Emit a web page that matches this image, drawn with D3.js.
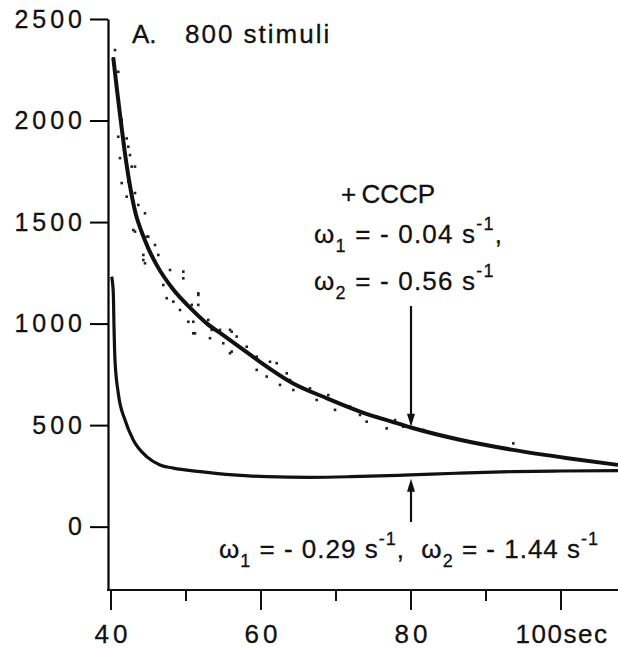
<!DOCTYPE html>
<html>
<head>
<meta charset="utf-8">
<script src="https://cdn.jsdelivr.net/npm/d3@7"></script>
<style>
   body { margin: 0; background: #fff; }
   text { font-family: "Liberation Sans", Arial, sans-serif; fill: #111; }
</style>
</head>
<body>
<div id="chart"></div>
<script>
// UPPER TRACE (+ CCCP) -- FITTED CURVE
var cccpTime  = [40.3, 40.8, 41.3, 41.8, 42.3, 43.3, 44.0, 45.0, 46.1, 48.3, 50.5, 52.8, 55.0, 58.5, 60.0, 64.3, 68.8, 73.2, 77.6, 80.1, 86.5, 93.6, 100.9, 107.6];
var cccpValue = [2310, 2150, 2000, 1855, 1730, 1540, 1460, 1368, 1288, 1168, 1080, 1000, 942, 848, 808, 705, 632, 567, 515, 487, 428, 378, 337, 304];

// UPPER TRACE -- RAW SAMPLES THAT STAND OFF THE CURVE
var scatterTime  = [40.53, 40.31, 40.97, 41.43, 42.09, 40.97, 42.31, 42.53, 43.2, 42.76, 41.2, 41.43, 42.31, 43.2, 42.09, 43.64, 44.53, 42.97, 44.09, 44.97,
                    44.76, 45.87, 44.31, 46.31, 44.53, 47.87, 49.64, 49.64, 46.97, 47.43, 51.64, 48.31, 49.2, 50.76, 51.64, 50.31, 50.97, 51.2, 52.97, 53.43,
                    54.53, 55.87, 53.2, 54.97, 56.76, 58.09, 56.09, 59.43, 61.2, 62.09, 60.76, 62.53, 63.87, 64.31, 66.53, 68.97, 67.43, 69.87, 71.87, 73.2,
                    75.43, 74.09, 77.87, 76.76, 78.97, 81.64, 43.2, 44.31, 51.64, 50.97, 56.09, 55.87, 59.43, 63.43, 93.64];
var scatterValue = [2347, 2306, 2240, 2003, 1912, 1920, 1871, 1830, 1773, 1773, 1815, 1692, 1699, 1643, 1625, 1584, 1543, 1461, 1445, 1428,
                    1428, 1387, 1338, 1338, 1297, 1264, 1256, 1223, 1190, 1125, 1149, 1108, 1067, 1092, 1092, 1009, 1009, 952, 1018, 969,
                    969, 969, 928, 903, 936, 886, 862, 837, 812, 805, 739, 698, 722, 673, 681, 648, 624, 575, 591, 550,
                    542, 517, 525, 484, 492, 476, 1453, 1313, 1141, 952, 960, 854, 772, 755, 410];

// LOWER TRACE (CONTROL)
var controlTime  = [40.09, 40.31, 40.4, 40.53, 40.97, 41.87, 42.97, 44.76, 46.53, 48.3, 51.9, 56.3, 60.8, 66.5, 72.0, 79.9, 86.0, 93.6, 100.0, 107.6];
var controlValue = [1231, 1149, 985, 821, 657, 525, 427, 345, 304, 288, 271, 255, 246, 243, 246, 255, 263, 271, 274, 276];

// AXIS TICKS
var yTicks = [0, 500, 1000, 1500, 2000, 2500];
var xMajor = [40, 60, 80, 100];
var xMinor = [50, 70, 90];
var xLabels = ['40', '60', '80', '100sec'];

// SETTINGS
var settings = {
   width: 618,
   height: 648,
   left: 108,
   top: 19,
   bottom: 590,
   arrowAt: 80
};

// CANVAS
var svg = d3.select('#chart').append('svg')
   .attr('width', settings.width)
   .attr('height', settings.height)

// X-SCALING
var xScale = d3.scaleLinear()
   .domain([39.6, 107.6])
   .range([settings.left, settings.width])

// Y-SCALING
var yScale = d3.scaleLinear()
   .domain([-312, 2500])
   .range([settings.bottom, settings.top])

// Y-AXIS
var yAxis = svg.append('g')
   .attr('transform', 'translate(' + settings.left + ',0)')
   .call(d3.axisLeft(yScale).tickValues(yTicks).tickFormat(d3.format('d')).tickSizeInner(18).tickSizeOuter(0).tickPadding(4))

yAxis.select('.domain').attr('stroke-width', 2.2)
yAxis.selectAll('.tick line').attr('stroke-width', 2)
yAxis.selectAll('.tick text')
   .attr('font-size', 25)
   .attr('letter-spacing', 4)
   .attr('fill', '#111')
   .attr('stroke', '#111')
   .attr('stroke-width', 0.3)
   .style('font-family', '"Liberation Sans", Arial, sans-serif')

// X-AXIS LINE
svg.append('line')
   .attr('x1', settings.left - 1)
   .attr('x2', settings.width)
   .attr('y1', settings.bottom)
   .attr('y2', settings.bottom)
   .attr('stroke', '#111')
   .attr('stroke-width', 2.2)

// X-AXIS MAJOR TICKS
svg.selectAll('.xmajor')
   .data(xMajor)
      .enter().append('line')
         .attr('x1', (d) => { return xScale(d) })
         .attr('x2', (d) => { return xScale(d) })
         .attr('y1', settings.bottom)
         .attr('y2', settings.bottom + 20)
         .attr('stroke', '#111')
         .attr('stroke-width', 2)

// X-AXIS MINOR TICKS
svg.selectAll('.xminor')
   .data(xMinor)
      .enter().append('line')
         .attr('x1', (d) => { return xScale(d) })
         .attr('x2', (d) => { return xScale(d) })
         .attr('y1', settings.bottom)
         .attr('y2', settings.bottom + 11)
         .attr('stroke', '#111')
         .attr('stroke-width', 2)

// X-AXIS LABELS -- LAST ONE CARRIES THE UNIT, SO IT IS SET TIGHTER
svg.selectAll('.xlabel')
   .data(xMajor)
      .enter().append('text')
         .attr('x', (d, i) => { return xScale(d) + (i == xMajor.length - 1 ? 1 : 2) })
         .attr('y', 643)
         .attr('text-anchor', 'middle')
         .attr('font-size', 26)
         .attr('letter-spacing', (d, i) => { return i == xMajor.length - 1 ? 1.5 : 4 })
         .attr('stroke', '#111')
         .attr('stroke-width', 0.3)
         .text((d, i) => { return xLabels[i] })

// LINE GENERATOR
var pathify = d3.line()
   .x((d) => { return xScale(d[0]) })
   .y((d) => { return yScale(d[1]) })
   .curve(d3.curveMonotoneX)

// SCATTER DOTS
svg.selectAll('.dot')
   .data(d3.zip(scatterTime, scatterValue))
      .enter().append('rect')
         .attr('x', (d) => { return xScale(d[0]) - 1.3 })
         .attr('y', (d) => { return yScale(d[1]) - 1.3 })
         .attr('width', 2.6)
         .attr('height', 2.6)
         .attr('fill', '#222')

// CURVES
svg.append('path')
   .attr('d', pathify(d3.zip(cccpTime, cccpValue)))
   .attr('fill', 'none')
   .attr('stroke', '#111')
   .attr('stroke-width', 4)

svg.append('path')
   .attr('d', pathify(d3.zip(controlTime, controlValue)))
   .attr('fill', 'none')
   .attr('stroke', '#111')
   .attr('stroke-width', 3.2)

// TITLE
svg.append('text')
   .attr('x', 132)
   .attr('y', 43)
   .attr('font-size', 26)
   .attr('stroke', '#111')
   .attr('stroke-width', 0.3)
   .text('A.')

svg.append('text')
   .attr('x', 185)
   .attr('y', 43)
   .attr('font-size', 26)
   .attr('letter-spacing', 2)
   .attr('stroke', '#111')
   .attr('stroke-width', 0.3)
   .text('800 stimuli')

// OMEGA LABEL HELPER
function omega(x, y, spacing, parts) {
   var t = svg.append('text')
      .attr('x', x)
      .attr('y', y)
      .attr('font-size', 26)
      .attr('letter-spacing', spacing)
      .attr('stroke', '#111')
      .attr('stroke-width', 0.3)
      .attr('xml:space', 'preserve')
   parts.forEach(p => {
      var s = t.append('tspan').text(p[0])
      if (p[1] == 'sub') { s.attr('font-size', 18).attr('dy', 9) }
      if (p[1] == 'sup') { s.attr('font-size', 18).attr('dy', -13) }
      if (p[1] == 'up') { s.attr('dy', -9) }
      if (p[1] == 'down') { s.attr('dy', 13) }
   });
}

// CCCP ANNOTATION
svg.append('text')
   .attr('x', 341)
   .attr('y', 203)
   .attr('font-size', 26)
   .attr('stroke', '#111')
   .attr('stroke-width', 0.3)
   .text('+\u2009CCCP')

omega(314, 243, 1.2, [['\u03c9'], ['1', 'sub'], [' = - 0.04 s', 'up'], ['-1', 'sup'], [',', 'down']])
omega(314, 290, 1.2, [['\u03c9'], ['2', 'sub'], [' = - 0.56 s', 'up'], ['-1', 'sup']])

// CONTROL ANNOTATION
omega(219, 558, 1.0, [['\u03c9'], ['1', 'sub'], [' = - 0.29 s', 'up'], ['-1', 'sup'], [',  \u03c9', 'down'], ['2', 'sub'], [' = - 1.44 s', 'up'], ['-1', 'sup']])

// ARROWS
var ax = xScale(settings.arrowAt);
var topTip = yScale(487) - 1;
var lowTip = yScale(255) + 4;

svg.append('line')
   .attr('x1', ax).attr('x2', ax)
   .attr('y1', 306).attr('y2', topTip - 8)
   .attr('stroke', '#111').attr('stroke-width', 2.2)

svg.append('path')
   .attr('d', 'M' + (ax - 4) + ',' + (topTip - 13) + 'L' + (ax + 4) + ',' + (topTip - 13) + 'L' + ax + ',' + topTip + 'Z')
   .attr('fill', '#111')

svg.append('line')
   .attr('x1', ax).attr('x2', ax)
   .attr('y1', 522).attr('y2', lowTip + 8)
   .attr('stroke', '#111').attr('stroke-width', 2.2)

svg.append('path')
   .attr('d', 'M' + (ax - 4) + ',' + (lowTip + 13) + 'L' + (ax + 4) + ',' + (lowTip + 13) + 'L' + ax + ',' + lowTip + 'Z')
   .attr('fill', '#111')
</script>
</body>
</html>
